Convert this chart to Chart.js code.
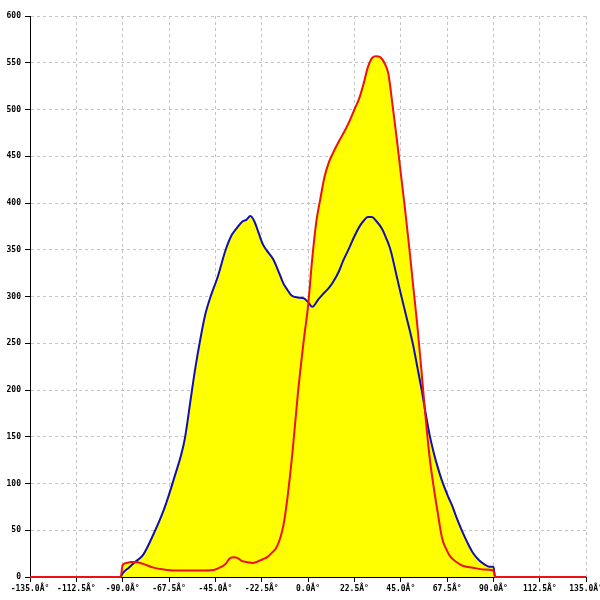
<!DOCTYPE html>
<html>
<head>
<meta charset="utf-8">
<script src="https://cdn.jsdelivr.net/npm/chart.js@4.4.1/dist/chart.umd.min.js"></script>
<style>
  html, body { margin: 0; padding: 0; background: #fff; overflow: hidden; }
</style>
</head>
<body>
<canvas id="c" width="605" height="600"></canvas>
<script>
// blue curve: angle (deg) -> value
var blueAngles = [-135, -91, -90, -87, -84, -80, -75, -70, -65, -60, -57, -55, -52, -50, -47, -44, -40, -37, -35, -32, -30, -28, -26, -24, -22, -20, -17, -14, -12, -10, -8, -5, -2, 0, 2, 5, 7, 10, 12, 15, 17, 20, 22, 25, 27, 29, 31, 33, 36, 38, 40, 43, 45, 48, 51, 53, 55, 57, 59, 61, 63, 65, 68, 70, 72, 75, 78, 80, 83, 86, 88, 90, 90.8, 135];
var blueValues = [0, 0, 4, 10, 16, 24, 46, 72, 106, 146, 190, 220, 258, 280, 302, 320, 350, 366, 372, 380, 382, 386, 380, 368, 356, 349, 340, 325, 314, 307, 301, 299, 298, 294, 289, 297, 302, 309, 315, 327, 338, 352, 362, 375, 381, 385, 385, 381, 372, 362, 350, 322, 303, 276, 248, 225, 202, 176, 152, 133, 117, 103, 86, 76, 64, 48, 34, 26, 18, 13, 11, 11, 0, 0];

// red curve: angle (deg) -> value
var redAngles = [-135, -91, -90, -88, -86, -84, -80, -75, -70, -65, -60, -55, -50, -45, -42, -40, -38, -36, -34, -32, -30, -27, -25, -22, -20, -18, -15, -12, -10, -7.5, -5, -2, 0, 2, 4, 6, 8, 10, 12, 15, 18, 20, 22.5, 25, 27, 29, 31, 33, 35, 37, 39, 41, 43, 45, 47, 49, 51, 53, 55, 57, 59, 61, 63, 65, 67, 69, 72, 75, 80, 85, 90, 90.8, 135];
var redValues = [0, 0, 13, 15, 16, 16, 14, 10, 8, 7, 7, 7, 7, 8, 11, 14, 20, 21, 20, 17, 16, 15, 16, 19, 21, 25, 33, 55, 85, 135, 195, 255, 290, 340, 380, 405, 428, 443, 453, 466, 478, 487, 500, 513, 528, 545, 555, 557, 556, 550, 538, 505, 470, 432, 395, 355, 312, 270, 222, 172, 128, 96, 68, 42, 30, 22, 16, 12, 10, 8, 7, 0, 0];

var xTicks = [-135, -112.5, -90, -67.5, -45, -22.5, 0, 22.5, 45, 67.5, 90, 112.5, 135];
var xTickLabels = ['-135.0Â°', '-112.5Â°', '-90.0Â°', '-67.5Â°', '-45.0Â°', '-22.5Â°', '0.0Â°', '22.5Â°', '45.0Â°', '67.5Â°', '90.0Â°', '112.5Â°', '135.0Â°'];
var yTicks = [0, 50, 100, 150, 200, 250, 300, 350, 400, 450, 500, 550, 600];

function points(xs, ys) {
    return xs.map(function (a, i) { return { x: a, y: ys[i] }; });
}

var tickFont = { family: 'DejaVu Sans Mono', size: 8, weight: 'bold' };
var gridOpts = { color: '#c4c4c4', tickColor: '#000', tickLength: 5, tickBorderDash: [] };
var borderOpts = { color: '#000', width: 1, dash: [3, 3] };

new Chart(document.getElementById('c').getContext('2d'), {
    type: 'line',
    data: {
        datasets: [
            {
                data: points(redAngles, redValues),
                borderColor: '#ee1111',
                backgroundColor: '#ffff00',
                borderWidth: 2,
                fill: 'origin',
                pointRadius: 0,
                cubicInterpolationMode: 'monotone',
                clip: false,
                order: 0
            },
            {
                data: points(blueAngles, blueValues),
                borderColor: '#1010b0',
                backgroundColor: '#ffff00',
                borderWidth: 2,
                fill: 'origin',
                pointRadius: 0,
                cubicInterpolationMode: 'monotone',
                clip: false,
                order: 1
            }
        ]
    },
    options: {
        responsive: false,
        animation: false,
        layout: { padding: { top: 16, right: 0, left: 0, bottom: 0 } },
        plugins: {
            legend: { display: false },
            tooltip: { enabled: false },
            filler: { drawTime: 'beforeDatasetsDraw' }
        },
        scales: {
            x: {
                type: 'linear',
                min: -135,
                max: 135,
                afterBuildTicks: function (s) { s.ticks = xTicks.map(function (v) { return { value: v }; }); },
                afterFit: function (s) { s.height = 23; },
                ticks: {
                    autoSkip: false,
                    maxRotation: 0,
                    color: '#000',
                    font: tickFont,
                    padding: 2,
                    callback: function (v) { return xTickLabels[xTicks.indexOf(v)]; }
                },
                grid: gridOpts,
                border: borderOpts
            },
            y: {
                min: 0,
                max: 600,
                afterBuildTicks: function (s) { s.ticks = yTicks.map(function (v) { return { value: v }; }); },
                afterFit: function (s) { s.width = 30; },
                ticks: {
                    color: '#000',
                    font: tickFont,
                    padding: 4
                },
                grid: gridOpts,
                border: borderOpts
            }
        }
    }
});
</script>
</body>
</html>
